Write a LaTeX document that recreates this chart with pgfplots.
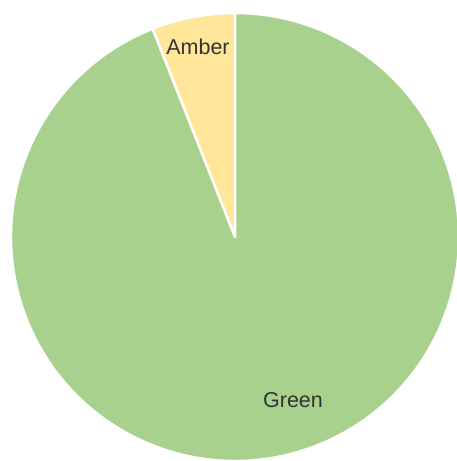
\documentclass[border=0pt]{standalone}
\usepackage{pgfplots}
\usepackage{pgfplotstable}
\pgfplotsset{compat=1.18}
\usepackage{fontspec}
\setmainfont{Liberation Sans}
\definecolor{pgreen}{HTML}{A9D18E}
\definecolor{pamber}{HTML}{FFE699}
\definecolor{ptext}{HTML}{333333}
\pgfplotstableread{
label value
Amber 6
Green 94
}\piedata
\begin{document}
\begin{tikzpicture}
\pgfplotstablegetelem{0}{value}\of\piedata \let\va\pgfplotsretval
\pgfplotstablegetelem{1}{value}\of\piedata \let\vb\pgfplotsretval
\pgfmathsetmacro{\tot}{\va+\vb}
\pgfmathsetmacro{\aA}{90}
\pgfmathsetmacro{\aB}{90+360*(\va/\tot)}
\pgfmathsetmacro{\aC}{\aB+360*(\vb/\tot)}
\def\R{224}
\begin{axis}[
  scale only axis, width=457pt, height=461pt,
  xmin=-235, xmax=222, ymin=-224, ymax=237,
  hide axis, clip=true]
\begin{scope}
\clip (axis cs:-235,-224) rectangle (axis cs:222,237);
\filldraw[fill=pamber, draw=white, line width=2.5pt, line join=round]
  (axis cs:0,0) -- (axis cs:{\R*cos(\aA)},{\R*sin(\aA)})
  arc[start angle=\aA, end angle=\aB, radius=\R pt] -- cycle;
\filldraw[fill=pgreen, draw=white, line width=2.5pt, line join=round]
  (axis cs:0,0) -- (axis cs:{\R*cos(\aB)},{\R*sin(\aB)})
  arc[start angle=\aB, end angle=\aC, radius=\R pt] -- cycle;
\end{scope}
\node[text=ptext, font=\fontsize{21.5}{25}\selectfont] at (axis cs:-37,190) {Amber};
\node[text=ptext, font=\fontsize{21.5}{25}\selectfont] at (axis cs:58,-163) {Green};
\end{axis}
\pgfresetboundingbox
\path (current axis.south west) rectangle (current axis.north east);
\end{tikzpicture}
\end{document}
